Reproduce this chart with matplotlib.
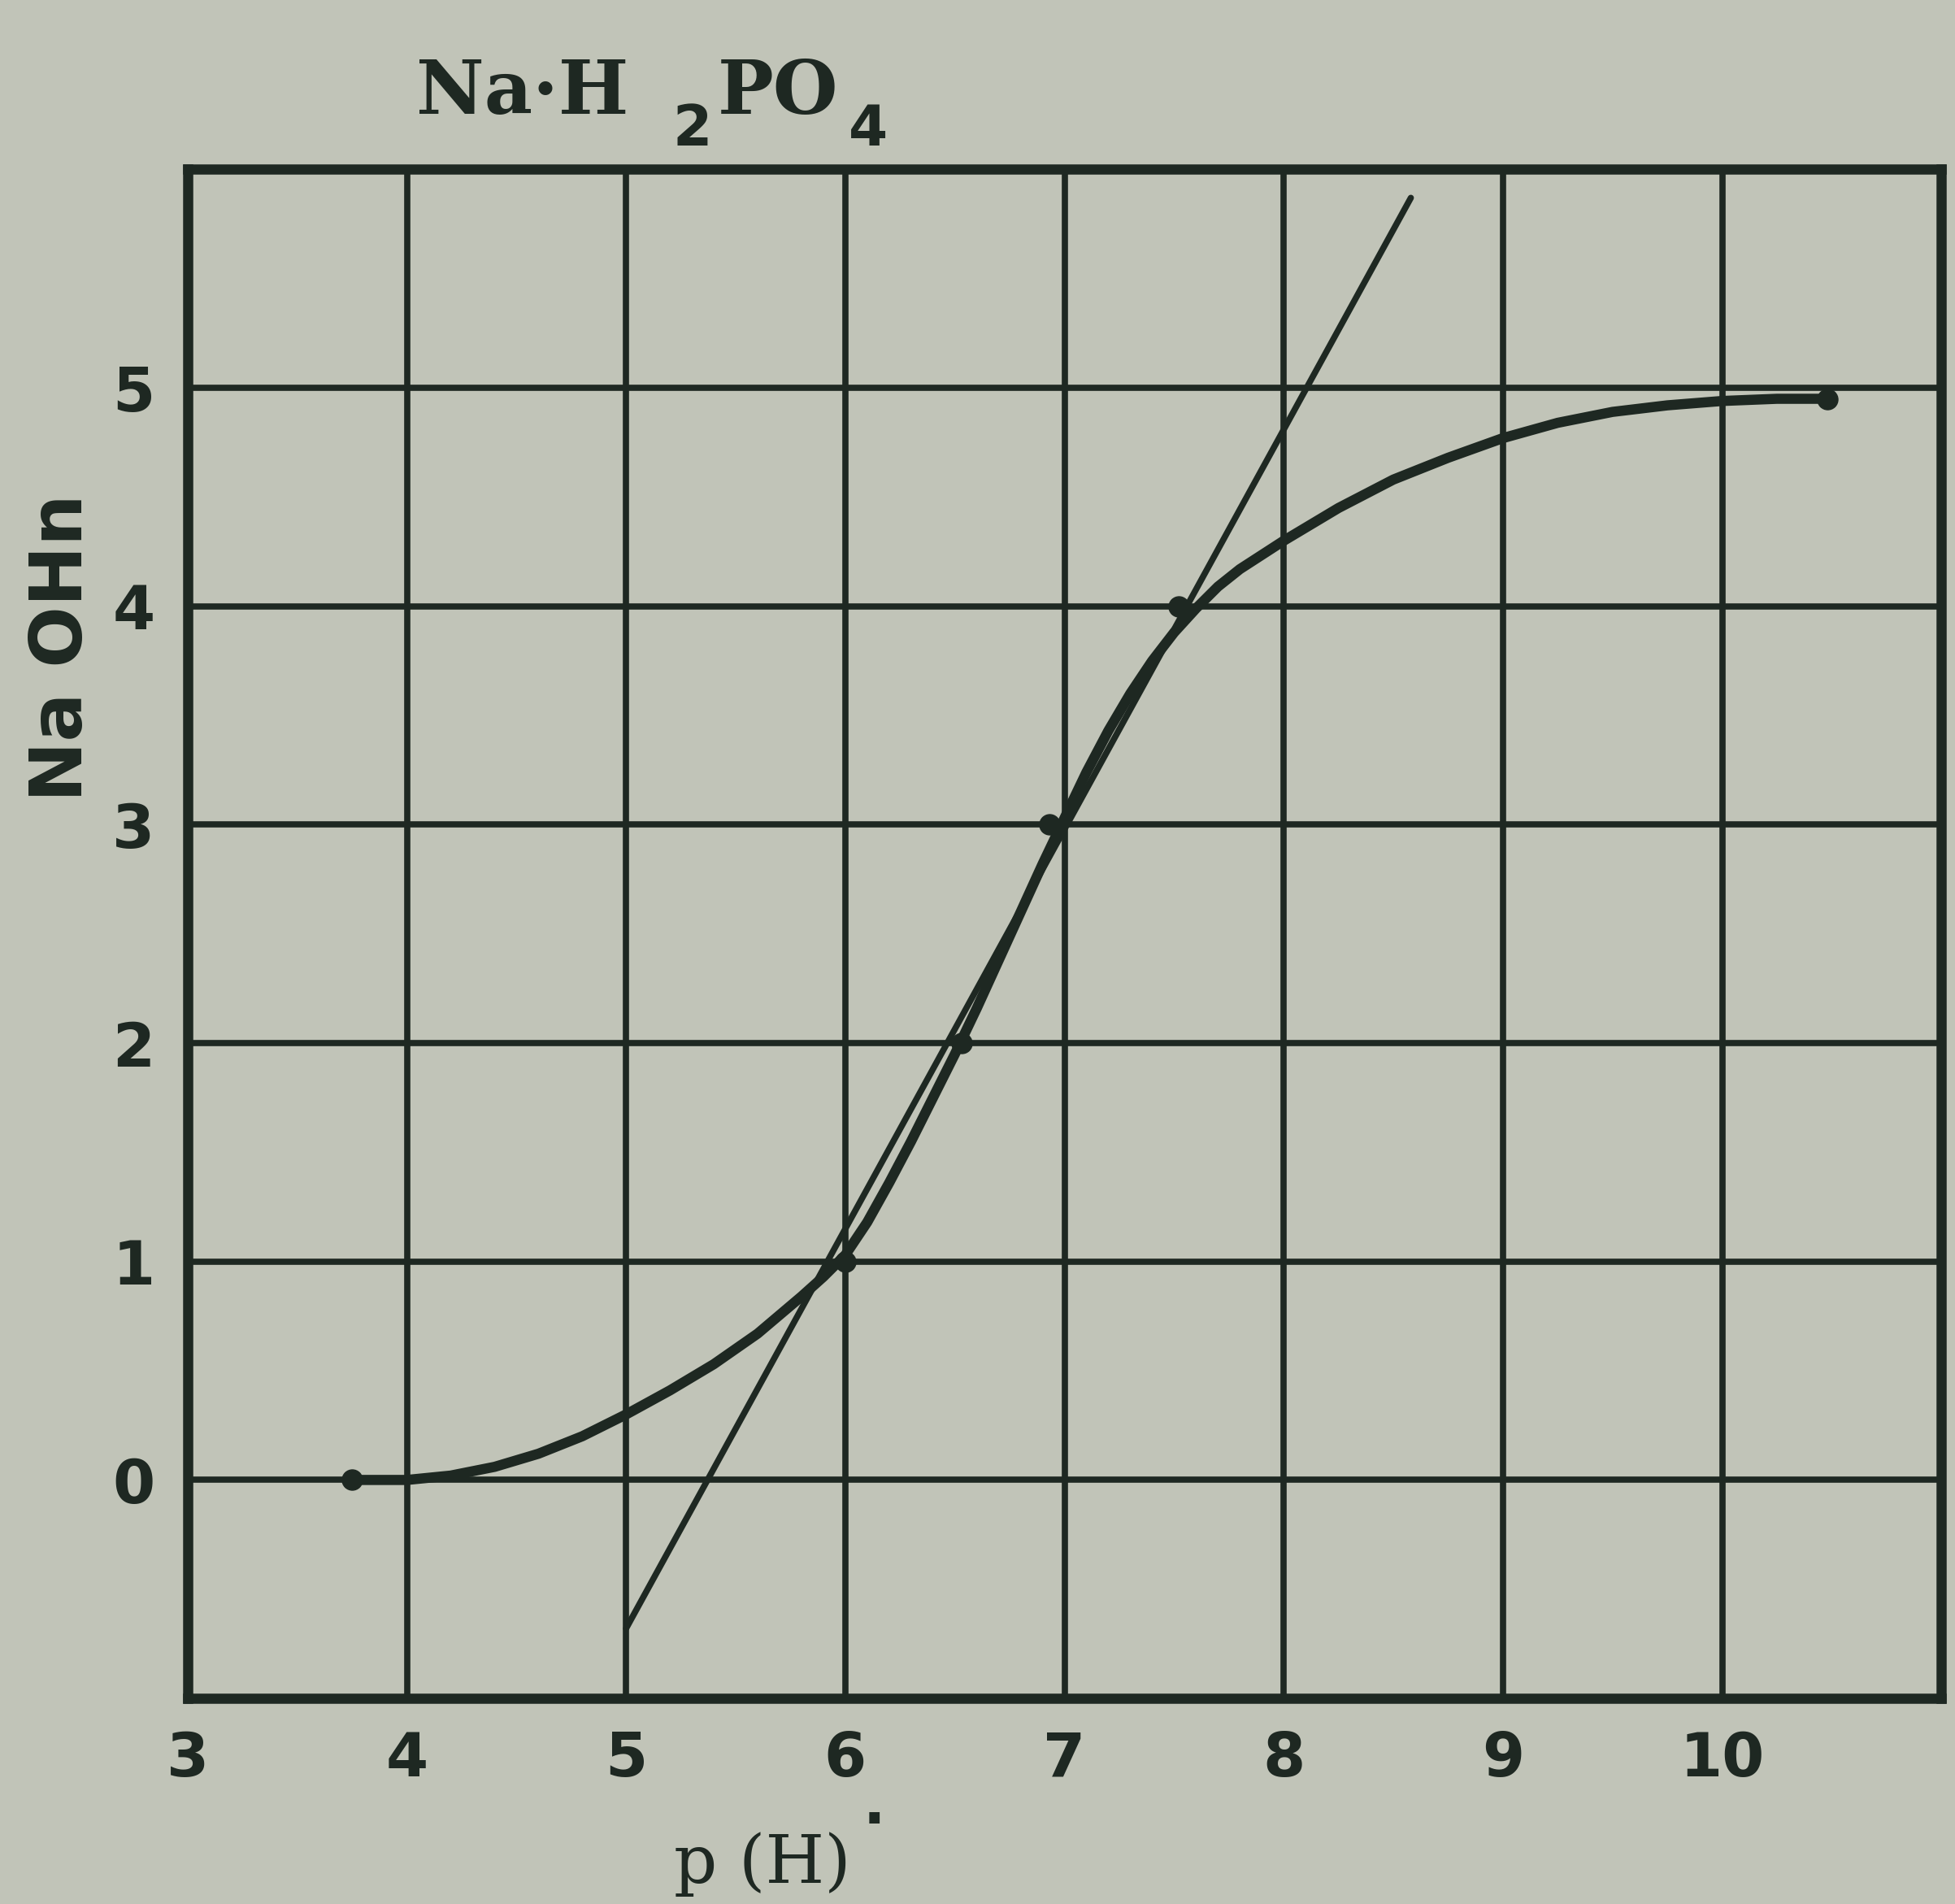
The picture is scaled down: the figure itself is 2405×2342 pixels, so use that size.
import matplotlib.pyplot as plt
import numpy as np

# titration curve
ph_curve = [3.75, 4.0, 4.2, 4.4, 4.6, 4.8, 5.0, 5.2, 5.4, 5.6, 5.8, 5.9, 6.0, 6.1, 6.2,
            6.3, 6.4, 6.5, 6.6, 6.7, 6.8, 6.9, 7.0, 7.1, 7.2, 7.3, 7.4, 7.5, 7.6, 7.7,
            7.8, 8.0, 8.25, 8.5, 8.75, 9.0, 9.25, 9.5, 9.75, 10.0, 10.25, 10.5]
naoh_curve = [0.0, 0.0, 0.02, 0.06, 0.12, 0.2, 0.3, 0.41, 0.53, 0.67, 0.84, 0.93, 1.03,
              1.18, 1.36, 1.55, 1.75, 1.95, 2.16, 2.38, 2.6, 2.82, 3.03, 3.24, 3.43,
              3.6, 3.75, 3.88, 3.99, 4.09, 4.17, 4.3, 4.45, 4.58, 4.68, 4.77, 4.84,
              4.89, 4.92, 4.94, 4.95, 4.95]

# measured points
ph_pts = [3.75, 6.0, 6.53, 6.93, 7.52, 10.48]
naoh_pts = [0.0, 1.0, 2.0, 3.0, 4.0, 4.95]

# straight tangent line
ph_line = [5.0, 8.58]
naoh_line = [-0.68, 5.87]

xticks = [3, 4, 5, 6, 7, 8, 9, 10]
yticks = [0, 1, 2, 3, 4, 5]

bg = '#c1c4b8'
ink = '#1e2822'

fig = plt.figure(figsize=(24.05, 23.42), dpi=100, facecolor=bg)
ax = fig.add_axes([0.096, 0.108, 0.897, 0.803])
ax.set_facecolor(bg)

ax.set_xlim(3, 11)
ax.set_ylim(-1, 6)
ax.set_xticks(xticks)
ax.set_yticks(yticks)
ax.set_xticklabels([str(t) for t in xticks], fontsize=54, fontweight='bold', color=ink)
ax.set_yticklabels([str(t) for t in yticks], fontsize=54, fontweight='bold', color=ink)
ax.tick_params(length=0, pad=28)
ax.tick_params(axis='y', pad=29)

for v in range(4, 11):
    ax.axvline(v, color=ink, lw=5.5, zorder=1)
for v in range(0, 6):
    ax.axhline(v, color=ink, lw=5.5, zorder=1)

for s in ax.spines.values():
    s.set_linewidth(9)
    s.set_color(ink)

ax.plot(ph_line, naoh_line, color=ink, lw=5.5, solid_capstyle='round', zorder=3)
ax.plot(ph_curve, naoh_curve, color=ink, lw=9, solid_capstyle='round',
        solid_joinstyle='round', zorder=4)
ax.plot(ph_pts, naoh_pts, 'o', color=ink, ms=18, zorder=5)

# title Na·H2PO4 with dropped subscripts
tkw = dict(fontsize=66, fontweight='bold', family='DejaVu Serif', color=ink)
fig.text(0.213, 0.951, 'Na\u00b7H', va='center', ha='left', **tkw)
fig.text(0.344, 0.932, '2', va='center', ha='left', fontsize=50, fontweight='bold', color=ink)
fig.text(0.367, 0.951, 'PO', va='center', ha='left', **tkw)
fig.text(0.434, 0.932, '4', va='center', ha='left', fontsize=50, fontweight='bold', color=ink)

fig.text(0.032, 0.66, 'Na OHn', rotation=90, va='center', ha='center',
         fontsize=64, fontweight='bold', color=ink)
fig.text(0.39, 0.021, 'p (H)', va='center', ha='center', fontsize=60,
         family='DejaVu Serif', color=ink)
fig.text(0.447, 0.043, '\u00b7', va='center', ha='center', fontsize=52,
         fontweight='bold', color=ink)

fig.savefig('out.png', dpi=100, facecolor=bg)
